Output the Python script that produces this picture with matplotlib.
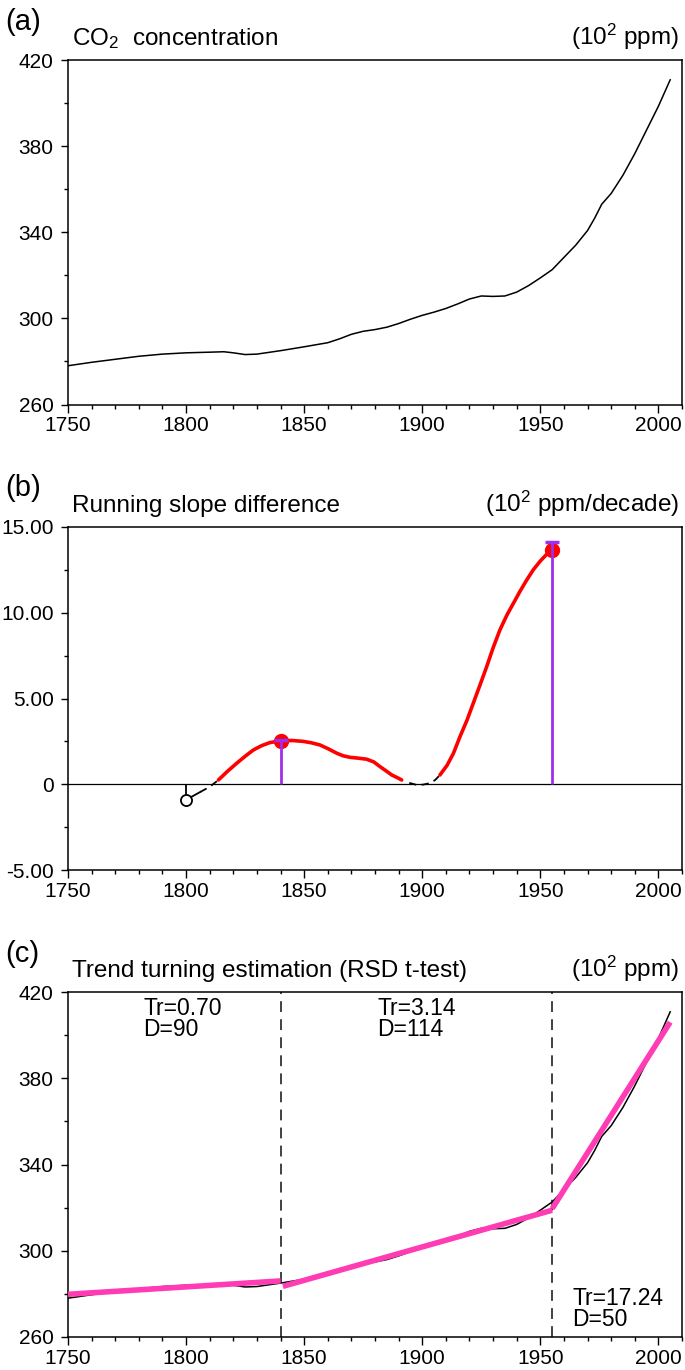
import numpy as np
import matplotlib
matplotlib.use('Agg')
import matplotlib.pyplot as plt
from matplotlib.ticker import MultipleLocator

plt.rcParams['font.family'] = ['Liberation Sans', 'DejaVu Sans']
plt.rcParams['mathtext.fontset'] = 'custom'
plt.rcParams['mathtext.rm'] = 'Liberation Sans'
plt.rcParams['mathtext.it'] = 'Liberation Sans'

# CO2 concentration
co2_year = [1750, 1760, 1770, 1780, 1790, 1800, 1810, 1816, 1820, 1825, 1830, 1840,
            1850, 1860, 1865, 1870, 1875, 1880, 1885, 1890, 1895, 1900, 1905, 1910,
            1915, 1920, 1925, 1930, 1935, 1940, 1945, 1950, 1955, 1960, 1965, 1970,
            1973, 1976, 1980, 1985, 1990, 1995, 2000, 2005]
co2_val = [278.0, 279.6, 281.0, 282.4, 283.4, 284.0, 284.3, 284.5, 284.0, 283.2, 283.4, 285.0,
           286.8, 288.7, 290.5, 292.6, 294.0, 294.8, 295.9, 297.6, 299.6, 301.4, 302.9, 304.6,
           306.7, 309.0, 310.4, 310.2, 310.4, 312.2, 315.2, 318.8, 322.6, 328.3, 334.0, 340.8,
           346.5, 353.0, 358.0, 366.5, 376.5, 387.5, 398.5, 410.8]

# running slope difference, panel (b)
rsd_year = [1800, 1803, 1806, 1810, 1813.7, 1817.5, 1821.4, 1825, 1828.5, 1832, 1835.5,
            1840.2, 1845, 1849.6, 1853, 1856.7, 1860, 1863.8, 1866.5, 1869.4, 1873,
            1876.5, 1879.5, 1882.1, 1884.7, 1887.1, 1889.5, 1891.3, 1894.5, 1897.7,
            1900.5, 1903.3, 1905.5, 1907.5, 1910.5, 1913.2, 1916, 1919, 1921.6, 1924.5,
            1927.3, 1930, 1932.9, 1935.8, 1938.6, 1941.4, 1944.2, 1947, 1949.9, 1952.5,
            1954.8]
rsd_val = [-0.9, -0.68, -0.45, -0.15, 0.25, 0.75, 1.22, 1.63, 2.0, 2.25, 2.43,
           2.54, 2.55, 2.5, 2.42, 2.29, 2.08, 1.81, 1.66, 1.57, 1.52,
           1.46, 1.3, 1.03, 0.78, 0.54, 0.38, 0.25, 0.08, -0.04,
           -0.02, 0.07, 0.25, 0.54, 1.1, 1.8, 2.78, 3.75, 4.72, 5.8,
           6.86, 7.95, 9.0, 9.85, 10.55, 11.25, 11.9, 12.5, 13.0, 13.38,
           13.66]
rsd_sig = [0, 0, 0, 0, 1, 1, 1, 1, 1, 1, 1,
           1, 1, 1, 1, 1, 1, 1, 1, 1, 1,
           1, 1, 1, 1, 1, 1, 1, 0, 0,
           0, 0, 0, 1, 1, 1, 1, 1, 1, 1,
           1, 1, 1, 1, 1, 1, 1, 1, 1, 1,
           1]

# turning points
tp_year = [1840, 1955]
tp_val = [2.55, 13.66]
tp_top = [2.6, 14.15]

# piecewise trends, panel (c)
seg_start = [1750, 1841, 1955]
seg_end = [1840, 1955, 2005]
seg_v0 = [279.8, 283.5, 319.5]
seg_v1 = [286.0, 318.8, 406.0]
seg_tr = ['0.70', '3.14', '17.24']
seg_d = ['90', '114', '50']
seg_lab_x = [1782, 1881, 1963.5]
seg_lab_y = [417.5, 417.5, 283]

W, H = 685, 1370
fig = plt.figure(figsize=(W / 100, H / 100), dpi=100)

def box(top, bottom, left=68, right=682):
    return [left / W, 1 - bottom / H, (right - left) / W, (bottom - top) / H]

FS = 15
TS = 17.5

def style(ax, yticks, ymin):
    ax.set_xlim(1750, 2010)
    ax.set_ylim(yticks[0], yticks[-1])
    ax.xaxis.set_major_locator(MultipleLocator(50))
    ax.xaxis.set_minor_locator(MultipleLocator(10))
    ax.set_yticks(yticks)
    ax.yaxis.set_minor_locator(MultipleLocator(ymin))
    ax.tick_params(which='major', direction='out', length=5.4, width=1.0, labelsize=FS)
    ax.tick_params(axis='y', which='major', pad=5.0)
    ax.tick_params(axis='x', which='major', pad=3.0)
    ax.tick_params(which='minor', direction='out', length=2.9, width=1.0)
    for s in ax.spines.values():
        s.set_linewidth(1.1)

def head(top, tag, title, unit):
    fig.text(5 / W, 1 - (top - 38.5) / H, tag, fontsize=21, ha='left', va='center')
    fig.text(72.5 / W, 1 - (top - 15.3) / H, title, fontsize=TS, ha='left', va='baseline')
    fig.text(679 / W, 1 - (top - 15.3) / H, unit, fontsize=TS, ha='right', va='baseline')

# (a)
ax1 = fig.add_axes(box(60, 404.5))
ax1.plot(co2_year, co2_val, color='black', lw=1.1)
style(ax1, [260, 300, 340, 380, 420], 20)
head(60, '(a)', r'CO$_2$  concentration', r'(10$^2$ ppm)')

# (b)
ax2 = fig.add_axes(box(527, 870))
ax2.axhline(0, color='black', lw=0.9)
yr = np.array(rsd_year)
vv = np.array(rsd_val)
sg = np.array(rsd_sig)
ax2.plot(yr[:3], vv[:3], color='black', lw=1.3, zorder=3)
i = 2
while i < len(yr) - 1:
    j = i
    if sg[i]:
        while j < len(yr) - 1 and sg[j + 1]:
            j += 1
        ax2.plot(yr[i:j + 1], vv[i:j + 1], color='red', lw=2.6, solid_capstyle='round', zorder=3)
    else:
        while j < len(yr) - 1 and not sg[j]:
            j += 1
        ax2.plot(yr[i:j + 1], vv[i:j + 1], color='black', lw=1.3, ls=(0, (4, 3)), zorder=3)
    i = j if j > i else i + 1
ax2.vlines(yr[0], vv[0], 0, color='black', lw=1.3)
ax2.plot(yr[0], vv[0], 'o', mfc='white', mec='black', ms=8, mew=1.3, zorder=4)
ax2.plot(tp_year, tp_val, 'o', color='red', ms=10, zorder=4)
ax2.vlines(tp_year, 0, tp_top, color='#9b30f0', lw=2.0, zorder=5)
ax2.plot(tp_year, tp_top, '_', color='#9b30f0', ms=10, mew=2.5, zorder=5)
style(ax2, [-5, 0, 5, 10, 15], 2.5)
ax2.set_yticklabels(['-5.00', '0', '5.00', '10.00', '15.00'])
head(527, '(b)', 'Running slope difference', r'(10$^2$ ppm/decade)')

# (c)
ax3 = fig.add_axes(box(992, 1337))
ax3.plot(co2_year, co2_val, color='black', lw=1.1, zorder=2)
for k in range(len(seg_start)):
    ax3.plot([seg_start[k], seg_end[k]], [seg_v0[k], seg_v1[k]], color='#ff3cb4', lw=4.0,
             solid_capstyle='butt', zorder=3)
    ax3.text(seg_lab_x[k], seg_lab_y[k], 'Tr=' + seg_tr[k] + '\nD=' + seg_d[k],
             fontsize=16.5, ha='left', va='top', linespacing=0.87)
for x in tp_year:
    ax3.axvline(x, color='#333333', lw=1.3, ls=(0, (6, 4)), zorder=1)
style(ax3, [260, 300, 340, 380, 420], 20)
head(992, '(c)', 'Trend turning estimation (RSD t-test)', r'(10$^2$ ppm)')

fig.savefig('out.png', dpi=100)
